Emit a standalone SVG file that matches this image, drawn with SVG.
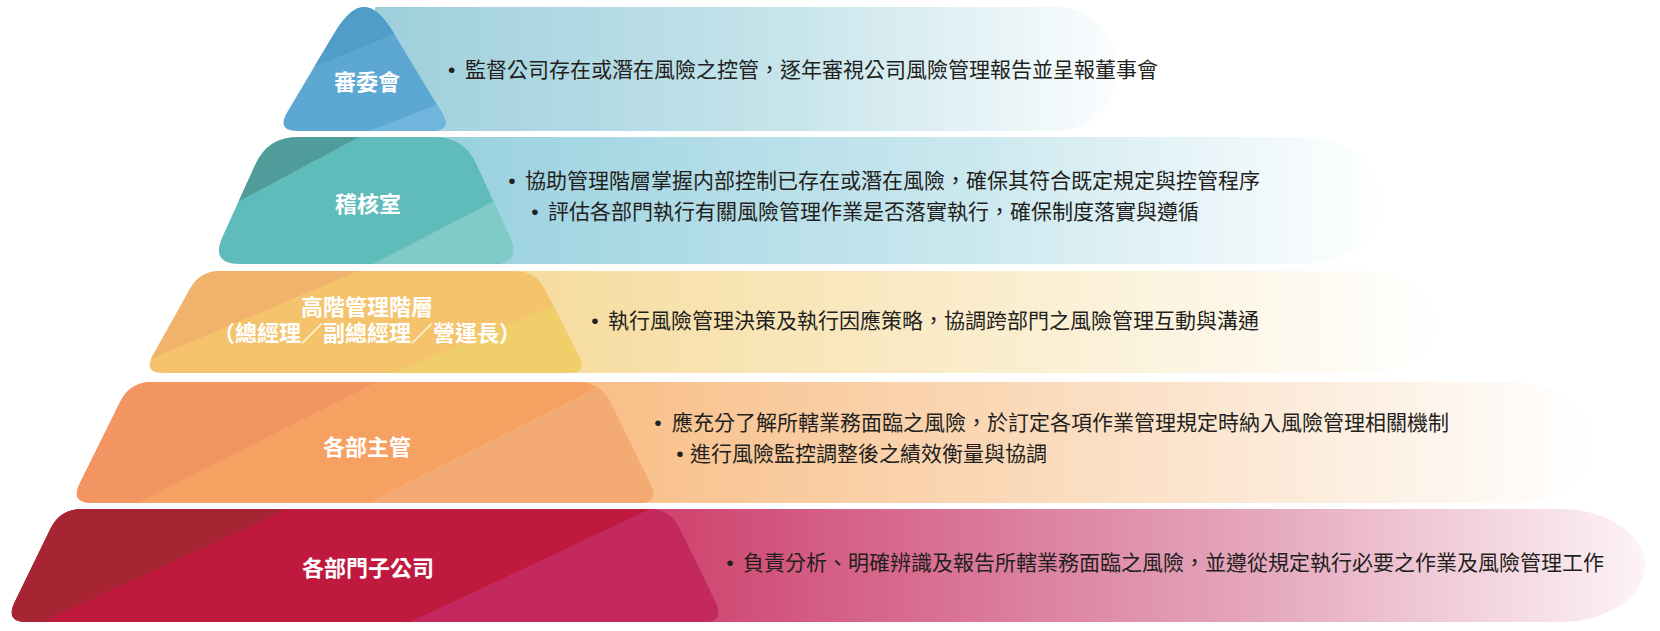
<svg xmlns="http://www.w3.org/2000/svg" width="1660" height="631" viewBox="0 0 1660 631">
<style>
.txt{font-family:"Noto Sans CJK TC","Noto Sans CJK SC",sans-serif;font-size:21px;fill:#231f20}
.bul{font-family:"Liberation Sans",sans-serif;font-size:21px;fill:#231f20;text-anchor:middle}
.lbl{font-family:"Noto Sans CJK TC","Noto Sans CJK SC",sans-serif;font-size:22px;font-weight:700;fill:#ffffff;text-anchor:middle}
</style>
<defs>
<linearGradient id="g1" gradientUnits="userSpaceOnUse" x1="380" y1="0" x2="1118" y2="0">
<stop offset="0" stop-color="#9ecfdc"/><stop offset="0.55" stop-color="#c6e4eb"/><stop offset="1" stop-color="#fbfdfe"/></linearGradient>
<linearGradient id="g2" gradientUnits="userSpaceOnUse" x1="470" y1="0" x2="1385" y2="0">
<stop offset="0" stop-color="#9bd2e0"/><stop offset="0.55" stop-color="#cbe8ef"/><stop offset="1" stop-color="#ffffff"/></linearGradient>
<linearGradient id="g3" gradientUnits="userSpaceOnUse" x1="540" y1="0" x2="1442" y2="0">
<stop offset="0" stop-color="#f6dc9e"/><stop offset="0.55" stop-color="#fbefd2"/><stop offset="1" stop-color="#ffffff"/></linearGradient>
<linearGradient id="g4" gradientUnits="userSpaceOnUse" x1="620" y1="0" x2="1595" y2="0">
<stop offset="0" stop-color="#f8c08a"/><stop offset="0.55" stop-color="#fbe2c9"/><stop offset="1" stop-color="#ffffff"/></linearGradient>
<linearGradient id="g5" gradientUnits="userSpaceOnUse" x1="680" y1="0" x2="1645" y2="0">
<stop offset="0" stop-color="#cf4570"/><stop offset="0.6" stop-color="#e5a7be"/><stop offset="1" stop-color="#fdf3f6"/></linearGradient>
<clipPath id="c1"><path id="s1" d="M334.6,32.8 Q350,7 364,7 Q378,7 393.5,32.7 L441.6,112.2 Q453,131 431,131 L298,131 Q276,131 287.3,112.1 Z"/></clipPath>
<clipPath id="c2"><path id="s2" d="M298,137 L434,137 Q464,137 476.5,164.3 L509.5,236.7 Q522,264 492,264 L240,264 Q210,264 222.5,236.7 L255.5,164.3 Q268,137 298,137 Z"/></clipPath>
<clipPath id="c3"><path id="s3" d="M220,271 L515,271 Q535,271 544.5,288.6 L578.5,355.4 Q588,373 568,373 L163,373 Q143,373 152.8,355.5 L190.2,288.5 Q200,271 220,271 Z"/></clipPath>
<clipPath id="c4"><path id="s4" d="M152,382 L578,382 Q600,382 610,401.6 L650,483.4 Q660,503 638,503 L92,503 Q70,503 79.8,483.3 L120.2,401.7 Q130,382 152,382 Z"/></clipPath>
<clipPath id="c5"><path id="s5" d="M82,509 L648,509 Q670,509 679.6,528.8 L715.4,602.2 Q725,622 703,622 L27,622 Q5,622 14.6,602.2 L50.4,528.8 Q60,509 82,509 Z"/></clipPath>
</defs>
<rect width="1660" height="631" fill="#ffffff"/>

<g id="connectors"></g>

<g id="tier1">
<path d="M375,7 L1056,7 A62,62 0 0 1 1056,131 L375,131 Z" fill="url(#g1)"/>
<g clip-path="url(#c1)">
<rect x="250" y="0" width="220" height="140" fill="#5ca8d2"/>
<polygon points="200,113 500,-9 200,-9" fill="#509dc9"/>
<polygon points="300,158 500,80 500,160" fill="#70b5dc"/>
</g>
<text class="lbl" x="367" y="90">審委會</text>
<text class="txt"><tspan class="bul" x="451.7" y="77">•</tspan><tspan x="465" y="77">監督公司存在或潛在風險之控管，逐年審視公司風險管理報告並呈報董事會</tspan></text>
</g>

<g id="tier2">
<path d="M420,137 L1300,137 A85,63.5 0 0 1 1300,264 L420,264 Z" fill="url(#g2)"/>
<g clip-path="url(#c2)">
<rect x="200" y="130" width="340" height="140" fill="#60bbbb"/>
<polygon points="150,249 450,88 150,88" fill="#4f9c9a"/>
<polygon points="300,302 600,146 600,302" fill="#80cbc7"/>
</g>
<text class="lbl" x="368" y="212">稽核室</text>
<text class="txt"><tspan class="bul" x="512" y="188">•</tspan><tspan x="525" y="188">協助管理階層掌握内部控制已存在或潛在風險，確保其符合既定規定與控管程序</tspan></text>
<text class="txt"><tspan class="bul" x="535" y="219">•</tspan><tspan x="548" y="219">評估各部門執行有關風險管理作業是否落實執行，確保制度落實與遵循</tspan></text>
</g>

<g id="tier3">
<path d="M480,271 L1357,271 A85,51 0 0 1 1357,373 L480,373 Z" fill="url(#g3)"/>
<g clip-path="url(#c3)">
<rect x="130" y="265" width="470" height="115" fill="#f4c36c"/>
<polygon points="80,389 450,232 80,232" fill="#f1b36b"/>
<polygon points="300,412 650,265 650,412" fill="#f0cf6a"/>
</g>
<text class="lbl"><tspan x="367" y="315">高階管理階層</tspan><tspan x="367" y="341">（總經理／副總經理／營運長）</tspan></text>
<text class="txt"><tspan class="bul" x="595" y="328">•</tspan><tspan x="608" y="328">執行風險管理決策及執行因應策略，協調跨部門之風險管理互動與溝通</tspan></text>
</g>

<g id="tier4">
<path d="M540,382 L1510,382 A85,60.5 0 0 1 1510,503 L540,503 Z" fill="url(#g4)"/>
<g clip-path="url(#c4)">
<rect x="60" y="375" width="610" height="135" fill="#f6a062"/>
<polygon points="0,572 450,345 0,345" fill="#f39562"/>
<polygon points="300,537 700,335 700,537" fill="#f4ab73"/>
</g>
<text class="lbl" x="367" y="455">各部主管</text>
<text class="txt"><tspan class="bul" x="658" y="430">•</tspan><tspan x="672" y="430">應充分了解所轄業務面臨之風險，於訂定各項作業管理規定時納入風險管理相關機制</tspan></text>
<text class="txt"><tspan class="bul" x="680" y="461">•</tspan><tspan x="690" y="461">進行風險監控調整後之績效衡量與協調</tspan></text>
</g>

<g id="tier5">
<path d="M600,509 L1560,509 A85,56.5 0 0 1 1560,622 L600,622 Z" fill="url(#g5)"/>
<g clip-path="url(#c5)">
<rect x="0" y="500" width="740" height="130" fill="#bf1a3e"/>
<polygon points="-20,651 400,457 -20,457" fill="#a72433"/>
<polygon points="300,674 760,457 760,674" fill="#c3285f"/>
</g>
<text class="lbl" x="368" y="576">各部門子公司</text>
<text class="txt"><tspan class="bul" x="730" y="570">•</tspan><tspan x="743" y="570">負責分析、明確辨識及報告所轄業務面臨之風險，並遵從規定執行必要之作業及風險管理工作</tspan></text>
</g>
</svg>
